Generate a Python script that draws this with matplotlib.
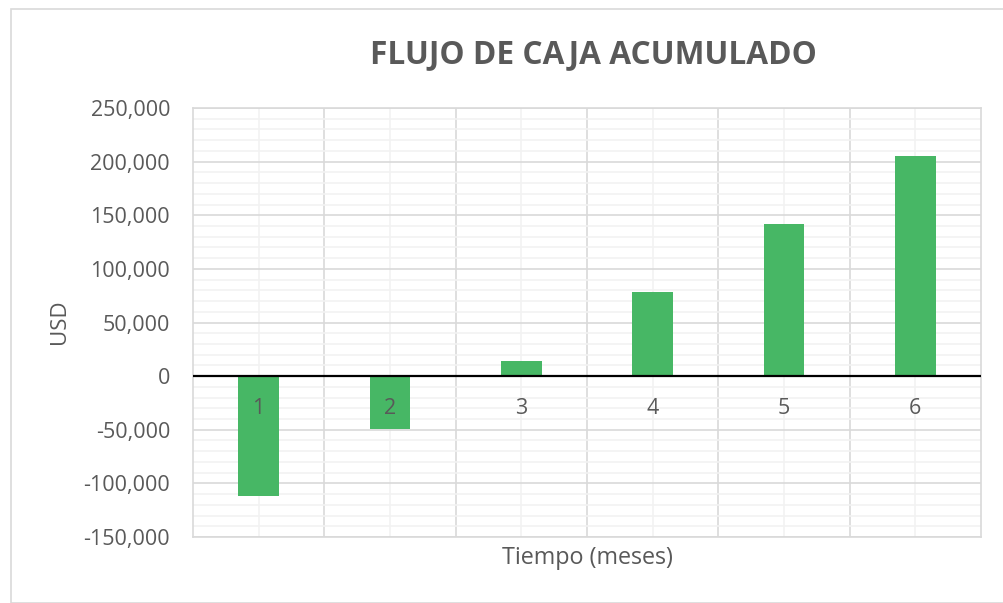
import matplotlib
matplotlib.use("Agg")
import matplotlib.pyplot as plt
from matplotlib.ticker import MultipleLocator, FuncFormatter
from matplotlib.patches import Rectangle

categories = ["1", "2", "3", "4", "5", "6"]
values = [-112000, -49000, 14000, 78000, 141500, 205000]
title = "FLUJO DE CAJA ACUMULADO"
xlabel = "Tiempo (meses)"
ylabel = "USD"

plt.rcParams['font.family'] = ['Open Sans', 'DejaVu Sans']
txt = "#595959"

fig = plt.figure(figsize=(10.04, 6.03), dpi=100)
fig.patches.append(Rectangle((11/1004, 0), 1.1, 594/603, transform=fig.transFigure,
                             fill=False, edgecolor="#d9d9d9", linewidth=1.2))
ax = fig.add_axes([193/1004, (603-537)/603, (981-193)/1004, (537-108)/603])

x = list(range(len(categories)))
ax.bar(x, values, width=0.31, color="#47b765", zorder=3)
ax.set_xlim(-0.5, len(categories) - 0.5)
ax.set_ylim(-150000, 250000)

ax.yaxis.set_major_locator(MultipleLocator(50000))
ax.yaxis.set_minor_locator(MultipleLocator(10000))
ax.yaxis.set_major_formatter(FuncFormatter(lambda v, p: f"{int(v):,}"))
ax.grid(which="major", axis="y", color="#d9d9d9", linewidth=1.2, zorder=1)
ax.grid(which="minor", axis="y", color="#f2f2f2", linewidth=1.2, zorder=0)
for b in [i + 0.5 for i in x[:-1]]:
    ax.axvline(b, color="#d9d9d9", linewidth=1.2, zorder=1)
for c in x:
    ax.axvline(c, color="#f2f2f2", linewidth=1.2, zorder=0.5)
ax.axhline(0, color="black", linewidth=1.6, zorder=4)

ax.set_xticks([])
for c, lab in zip(x, categories):
    ax.text(c, -30000, lab, ha="center", va="center", fontsize=15.5, color=txt, zorder=5)

ax.tick_params(axis="y", which="both", length=0, labelsize=15.5, labelcolor=txt, pad=16.5)
for s in ax.spines.values():
    s.set_color("#d9d9d9")
    s.set_linewidth(1.2)

fig.text(587/1004, 1 - 558/603, xlabel, ha="center", va="center", fontsize=16.8, color=txt)
fig.text(60/1004, 1 - 322/603, ylabel, ha="center", va="center", fontsize=16, color=txt, rotation=90)
fig.text(593/1004, 1 - 55/603, title, ha="center", va="center", fontsize=22.8, fontweight="bold", color=txt)

fig.savefig("out.png", dpi=100)
